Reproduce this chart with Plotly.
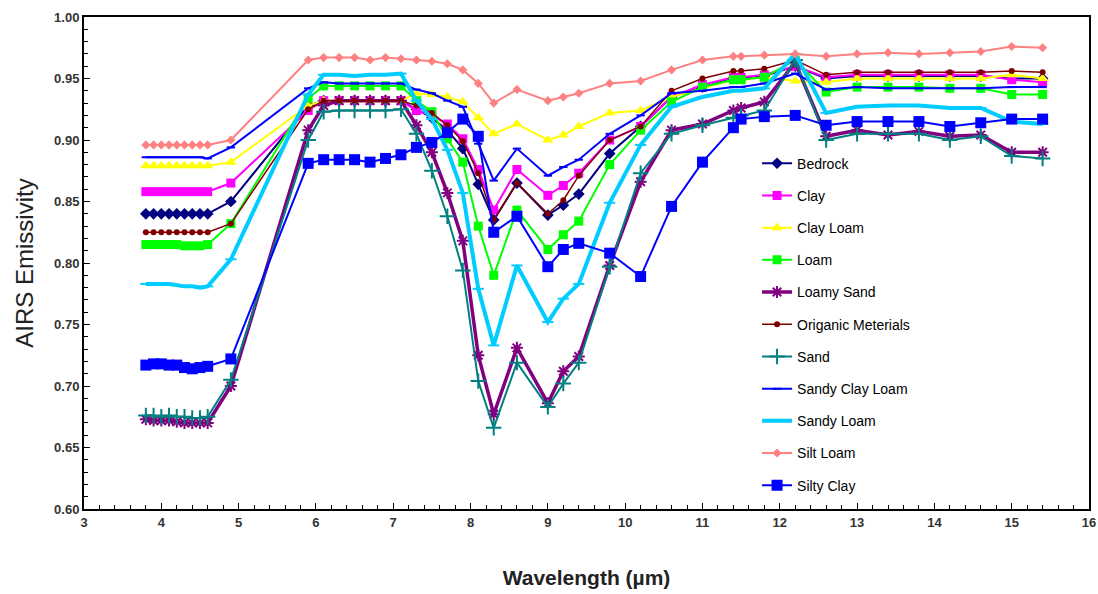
import plotly.graph_objects as go

wavelength = [3.8, 3.9, 4.0, 4.1, 4.2, 4.3, 4.4, 4.5, 4.6, 4.9,
              5.9, 6.1, 6.3, 6.5, 6.7, 6.9, 7.1, 7.3, 7.5, 7.7, 7.9,
              8.1, 8.3, 8.6, 9.0, 9.2, 9.4, 9.8, 10.2, 10.6, 11.0, 11.4, 11.5, 11.8, 12.2,
              12.6, 13.0, 13.4, 13.8, 14.2, 14.6, 15.0, 15.4]

bedrock = [0.840]*9 + [0.850,
           0.928, 0.932, 0.932, 0.932, 0.932, 0.932, 0.932, 0.925, 0.918, 0.908, 0.893,
           0.864, 0.835, 0.865, 0.839, 0.847, 0.856, 0.889, 0.911, 0.935, 0.943, 0.950, 0.950, 0.952, 0.960,
           0.950, 0.952, 0.952, 0.952, 0.952, 0.952, 0.950, 0.950]
clay = [0.858]*9 + [0.865,
        0.924, 0.932, 0.932, 0.932, 0.932, 0.932, 0.932, 0.924, 0.920, 0.913, 0.901,
        0.876, 0.843, 0.876, 0.855, 0.863, 0.873, 0.900, 0.911, 0.935, 0.945, 0.951, 0.951, 0.953, 0.960,
        0.951, 0.953, 0.953, 0.953, 0.953, 0.953, 0.949, 0.947]
clay_loam = [0.879]*9 + [0.882,
             0.928, 0.932, 0.932, 0.932, 0.932, 0.932, 0.932, 0.938, 0.937, 0.935, 0.931,
             0.918, 0.905, 0.913, 0.900, 0.904, 0.911, 0.922, 0.924, 0.935, 0.942, 0.949, 0.949, 0.951, 0.948,
             0.947, 0.950, 0.950, 0.950, 0.950, 0.950, 0.953, 0.950]
loam = [0.815, 0.815, 0.815, 0.815, 0.815, 0.814, 0.814, 0.814, 0.815, 0.832,
        0.934, 0.944, 0.944, 0.944, 0.944, 0.944, 0.944, 0.932, 0.923, 0.901, 0.882,
        0.830, 0.790, 0.843, 0.811, 0.823, 0.834, 0.880, 0.908, 0.931, 0.943, 0.949, 0.949, 0.951, 0.965,
        0.939, 0.943, 0.943, 0.943, 0.942, 0.942, 0.937, 0.937]
loamy_sand = [0.673, 0.672, 0.672, 0.672, 0.671, 0.670, 0.670, 0.670, 0.670, 0.700,
              0.908, 0.928, 0.932, 0.932, 0.932, 0.932, 0.932, 0.912, 0.890, 0.857, 0.818,
              0.725, 0.677, 0.731, 0.686, 0.712, 0.724, 0.798, 0.866, 0.908, 0.913, 0.924, 0.926, 0.931, 0.963,
              0.903, 0.908, 0.904, 0.907, 0.903, 0.904, 0.890, 0.890]
organic = [0.825]*9 + [0.832,
           0.925, 0.932, 0.932, 0.932, 0.932, 0.932, 0.932, 0.928, 0.922, 0.912, 0.899,
           0.873, 0.835, 0.865, 0.840, 0.851, 0.871, 0.900, 0.911, 0.940, 0.950, 0.956, 0.956, 0.958, 0.965,
           0.953, 0.955, 0.955, 0.955, 0.955, 0.955, 0.956, 0.955]
sand = [0.676, 0.676, 0.675, 0.676, 0.675, 0.675, 0.674, 0.674, 0.675, 0.705,
        0.900, 0.923, 0.924, 0.924, 0.924, 0.924, 0.925, 0.905, 0.875, 0.838, 0.794,
        0.704, 0.666, 0.719, 0.683, 0.702, 0.719, 0.797, 0.873, 0.905, 0.912, 0.918, 0.920, 0.924, 0.965,
        0.900, 0.905, 0.905, 0.905, 0.900, 0.903, 0.887, 0.885]
sandy_clay_loam = [0.886]*8 + [0.885, 0.894,
                   0.942, 0.947, 0.946, 0.946, 0.946, 0.946, 0.946, 0.941, 0.938, 0.932, 0.927,
                   0.897, 0.867, 0.893, 0.871, 0.878, 0.884, 0.905, 0.920, 0.938, 0.940, 0.943, 0.943, 0.946, 0.954,
                   0.941, 0.943, 0.942, 0.942, 0.942, 0.942, 0.943, 0.943]
sandy_loam = [0.783, 0.783, 0.783, 0.783, 0.782, 0.781, 0.781, 0.780, 0.781, 0.803,
              0.937, 0.953, 0.953, 0.952, 0.953, 0.953, 0.954, 0.932, 0.917, 0.892, 0.857,
              0.779, 0.733, 0.798, 0.752, 0.771, 0.783, 0.849, 0.896, 0.927, 0.935, 0.940, 0.940, 0.942, 0.970,
              0.922, 0.927, 0.928, 0.928, 0.926, 0.926, 0.915, 0.913]
silt_loam = [0.896]*9 + [0.900,
             0.965, 0.967, 0.967, 0.967, 0.965, 0.967, 0.966, 0.965, 0.964, 0.962, 0.957,
             0.946, 0.930, 0.941, 0.932, 0.935, 0.938, 0.946, 0.948, 0.957, 0.965, 0.968, 0.968, 0.969, 0.970,
             0.968, 0.970, 0.971, 0.970, 0.971, 0.972, 0.976, 0.975]
silty_clay = [0.717, 0.718, 0.718, 0.717, 0.717, 0.715, 0.714, 0.715, 0.716, 0.722,
              0.881, 0.884, 0.884, 0.884, 0.882, 0.885, 0.888, 0.894, 0.898, 0.906, 0.917,
              0.903, 0.825, 0.838, 0.797, 0.811, 0.816, 0.808, 0.789, 0.846, 0.882, 0.910, 0.917, 0.919, 0.920,
              0.912, 0.915, 0.915, 0.915, 0.911, 0.914, 0.917, 0.917]

series = [
    ("Bedrock", bedrock, "#000080", 2, "diamond", 9),
    ("Clay", clay, "#FF00FF", 2, "square", 9),
    ("Clay Loam", clay_loam, "#FFFF00", 2, "triangle-up", 10),
    ("Loam", loam, "#00FF00", 2, "square", 9),
    ("Loamy Sand", loamy_sand, "#800080", 3.5, "asterisk-open", 10),
    ("Origanic Meterials", organic, "#800000", 1.5, "circle", 6),
    ("Sand", sand, "#008080", 2, "cross-thin-open", 11),
    ("Sandy Clay Loam", sandy_clay_loam, "#0000FF", 2, "line-ew-open", 6),
    ("Sandy Loam", sandy_loam, "#00CCFF", 4, "line-ew-open", 8),
    ("Silt Loam", silt_loam, "#FF8080", 2, "diamond", 7),
    ("Silty Clay", silty_clay, "#0000FF", 2, "square", 11),
]

fig = go.Figure()
for i, (name, vals, color, lw, sym, ms) in enumerate(series):
    open_sym = sym.endswith("-open")
    fig.add_trace(go.Scatter(
        x=wavelength, y=vals, name=name, mode="lines+markers",
        legendgroup="g%d" % i,
        line=dict(color=color, width=lw),
        marker=dict(symbol=sym, size=ms, color=color,
                    line=dict(color=color, width=2 if open_sym else 0)),
    ))

FONT = "Arial, Liberation Sans, sans-serif"
axis_font = dict(family=FONT, size=13, color="#333333", weight="bold")
fig.update_layout(
    width=1098, height=594,
    margin=dict(l=84, r=9, t=17, b=85),
    paper_bgcolor="white", plot_bgcolor="white",
    font=dict(family=FONT, color="black"),
    legend=dict(x=0.6697, y=0.7345, xanchor="left", yanchor="top",
                font=dict(size=14, color="black", family=FONT),
                tracegroupgap=11, bgcolor="rgba(0,0,0,0)"),
    xaxis=dict(range=[3, 16], dtick=1, tick0=3, showgrid=False, zeroline=False,
               automargin=False,
               showline=True, linecolor="black", linewidth=2, mirror=True,
               ticks="inside", ticklen=6, tickcolor="black",
               minor=dict(dtick=0.2, ticks="inside", ticklen=4, tickcolor="black", showgrid=False),
               tickfont=axis_font,
               title=dict(text="Wavelength (µm)", standoff=42,
                          font=dict(size=21, color="#222222", weight="bold", family=FONT))),
    yaxis=dict(range=[0.60, 1.00], dtick=0.05, tick0=0.6, tickformat=".2f",
               showgrid=False, zeroline=False,
               automargin=False,
               showline=True, linecolor="black", linewidth=2, mirror=True,
               ticks="inside", ticklen=6, tickcolor="black",
               minor=dict(dtick=0.01, ticks="inside", ticklen=4, tickcolor="black", showgrid=False),
               tickfont=axis_font,
               title=dict(text="AIRS Emissivity", standoff=14,
                          font=dict(size=24, color="#222222", family=FONT))),
)

fig.write_html("out.html", config={"displayModeBar": False},
               post_script="document.body.style.margin='0';document.body.style.overflow='hidden';")
